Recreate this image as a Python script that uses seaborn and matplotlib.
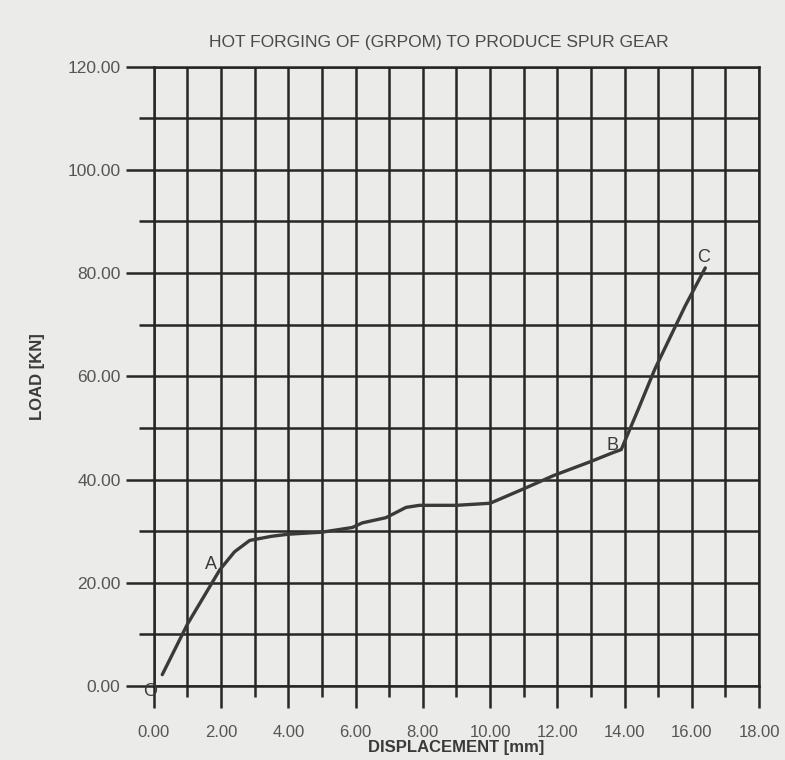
import numpy as np
import pandas as pd
import matplotlib
matplotlib.use("Agg")
import matplotlib.pyplot as plt
from matplotlib.ticker import MultipleLocator, FormatStrFormatter
import seaborn as sns

# values
displacement = [0.25, 1.0, 1.96, 2.4, 2.85, 3.5, 4.0, 5.0, 5.9, 6.2, 6.9, 7.5, 7.9,
                9.0, 10.0, 11.0, 11.9, 13.0, 13.65, 13.9, 14.4, 14.9, 15.8, 16.4]
load = [2.2, 12.0, 22.5, 26.0, 28.2, 29.0, 29.4, 29.8, 30.7, 31.6, 32.6, 34.6, 35.0,
        35.0, 35.4, 38.2, 40.8, 43.5, 45.2, 45.8, 53.5, 61.4, 73.6, 81.0]

point_names = ["O", "A", "B", "C"]
point_x = [-0.1, 1.7, 13.65, 16.35]
point_y = [-1.0, 23.5, 46.5, 83.0]

sns.set_style("ticks")
plt.rcParams['font.family'] = ['Liberation Sans', 'DejaVu Sans']

paper = '#ebebe9'
ink = '#262626'

fig = plt.figure(figsize=(7.85, 7.6), dpi=100, facecolor=paper)
ax = fig.add_axes([0.196, 0.0974, 0.771, 0.815])
ax.set_facecolor(paper)

df = pd.DataFrame({'DISPLACEMENT [mm]': displacement, 'LOAD [KN]': load})
sns.lineplot(data=df, x='DISPLACEMENT [mm]', y='LOAD [KN]', ax=ax,
             color='#3a3a3a', linewidth=2.4, sort=False, zorder=5)

ax.set_xlim(0, 18)
ax.set_ylim(0, 120)
ax.xaxis.set_major_locator(MultipleLocator(2))
ax.xaxis.set_minor_locator(MultipleLocator(1))
ax.yaxis.set_major_locator(MultipleLocator(20))
ax.yaxis.set_minor_locator(MultipleLocator(10))
ax.xaxis.set_major_formatter(FormatStrFormatter('%.2f'))
ax.yaxis.set_major_formatter(FormatStrFormatter('%.2f'))

ax.grid(True, which='both', color=ink, linewidth=1.8)
ax.tick_params(axis='x', which='major', direction='out', length=16, width=1.8,
               color=ink, labelsize=12, labelcolor='#555555', pad=12)
ax.tick_params(axis='x', which='minor', direction='out', length=8, width=1.8, color=ink)
ax.tick_params(axis='y', which='major', direction='out', length=20, width=1.8,
               color=ink, labelsize=12.5, labelcolor='#555555', pad=4)
ax.tick_params(axis='y', which='minor', direction='out', length=11, width=1.8, color=ink)
for side in ['left', 'right', 'top', 'bottom']:
    ax.spines[side].set_visible(True)
    ax.spines[side].set_color(ink)
    ax.spines[side].set_linewidth(1.8)

ax.set_xlabel('DISPLACEMENT [mm]', fontsize=12, fontweight='bold', color='#3a3a3a', labelpad=0)
ax.set_ylabel('LOAD [KN]', fontsize=12, fontweight='bold', color='#3a3a3a', labelpad=16)
ax.set_title('HOT FORGING OF (GRPOM) TO PRODUCE SPUR GEAR', fontsize=12.5,
             color='#4a4a4a', pad=14, x=0.47)

for name, px, py in zip(point_names, point_x, point_y):
    ax.text(px, py, name, fontsize=13, color='#3a3a3a', ha='center', va='center',
            clip_on=False, zorder=6)

fig.savefig('out.png', dpi=100, facecolor=paper)
